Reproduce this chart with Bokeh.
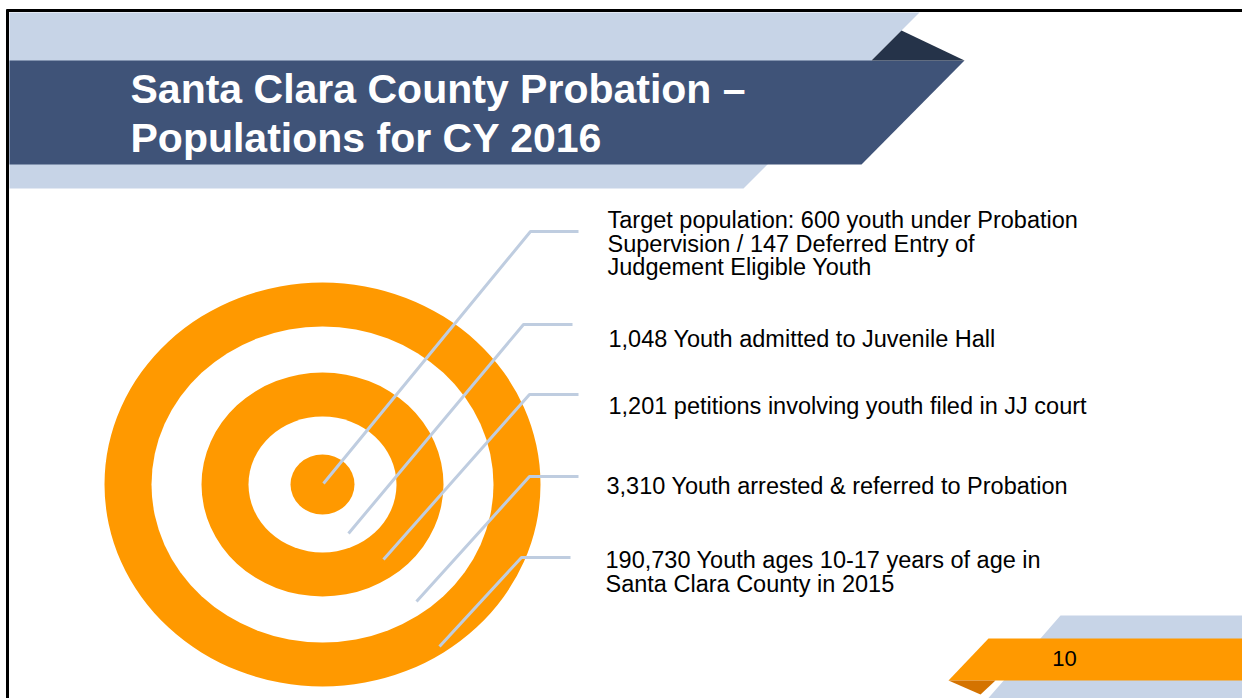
from bokeh.plotting import figure
from bokeh.models import Range1d
from bokeh.embed import file_html
from bokeh.resources import INLINE
from bokeh.core.properties import value

# ---- content ----
title_lines = ["Santa Clara County Probation \u2013", "Populations for CY 2016"]
labels = [
    "Target population: 600 youth under Probation\nSupervision / 147 Deferred Entry of\nJudgement Eligible Youth",
    "1,048 Youth admitted to Juvenile Hall",
    "1,201 petitions involving youth filed in JJ court",
    "3,310 Youth arrested & referred to Probation",
    "190,730 Youth ages 10-17 years of age in\nSanta Clara County in 2015",
]
page_number = "10"

# ---- layout (screen pixel coordinates) ----
W, H = 1242, 698
cx, cy = 322, 484
ring_rx = [218, 171, 121, 74, 32]
ring_ry = [202, 158, 112, 68, 30]
ring_col = ["#FF9900", "#FFFFFF", "#FF9900", "#FFFFFF", "#FF9900"]

# leader lines: start point in target, elbow, end of horizontal
lead_start = [(323, 483), (348, 533), (383, 559), (416, 601), (439, 646)]
lead_elbow = [(530, 231), (523, 324), (529, 394), (529, 476), (521, 557)]
lead_end_x = [578, 572, 578, 578, 570]
label_x = [607, 608, 608, 606, 605]
label_y = [221, 340, 407, 487, 561]   # cap middle of first line
line_step = 23.7

p = figure(width=W, height=H, output_backend="svg", toolbar_location=None,
           x_range=Range1d(0, W), y_range=Range1d(H, 0),
           min_border=0, background_fill_color="white", border_fill_color="white")
p.axis.visible = False
p.grid.visible = False
p.outline_line_color = None

# header bands
p.patch([9, 919, 743, 9], [12, 12, 188, 188], fill_color="#C7D4E7", line_color=None)
p.patch([9, 964, 861, 9], [60, 60, 164, 164], fill_color="#3F5378", line_color=None)
p.patch([871, 901, 964], [60, 30, 60], fill_color="#253349", line_color=None)

# border
p.line([6, 1250], [10, 10], line_color="black", line_width=3)
p.line([7, 7], [9, 710], line_color="black", line_width=3)

# title
for i, t in enumerate(title_lines):
    p.text([130], [88 + i * 49], text=[t], text_font=value("Liberation Sans"),
           text_font_style="bold", text_font_size="41px", text_color="white",
           text_baseline="middle", text_align="left")

# target rings
for rx, ry, c in zip(ring_rx, ring_ry, ring_col):
    p.ellipse([cx], [cy], width=2 * rx, height=2 * ry, fill_color=c, line_color=None)

# leader lines
xs = [[s[0], e[0], xe] for s, e, xe in zip(lead_start, lead_elbow, lead_end_x)]
ys = [[s[1], e[1], e[1]] for s, e in zip(lead_start, lead_elbow)]
p.multi_line(xs, ys, line_color="#BFCDE0", line_width=3)

# labels
for lx, ly, t in zip(label_x, label_y, labels):
    for j, line in enumerate(t.split("\n")):
        p.text([lx], [ly - 1.5 + j * line_step], text=[line], text_font=value("Liberation Sans"),
               text_font_size="23.5px", text_color="black",
               text_baseline="middle", text_align="left")

# page number band
p.patch([1060, 1250, 1250, 977], [615, 615, 710, 710], fill_color="#C7D4E7", line_color=None)
p.patch([988, 1250, 1250, 948], [638, 638, 680, 680], fill_color="#FF9900", line_color=None)
p.patch([948, 995, 980], [680, 680, 694], fill_color="#D47300", line_color=None)
p.text([1064], [658], text=[page_number], text_font=value("Liberation Sans"),
       text_font_size="22px", text_color="black", text_baseline="middle", text_align="center")

open("out.html", "w").write(file_html(p, INLINE))
